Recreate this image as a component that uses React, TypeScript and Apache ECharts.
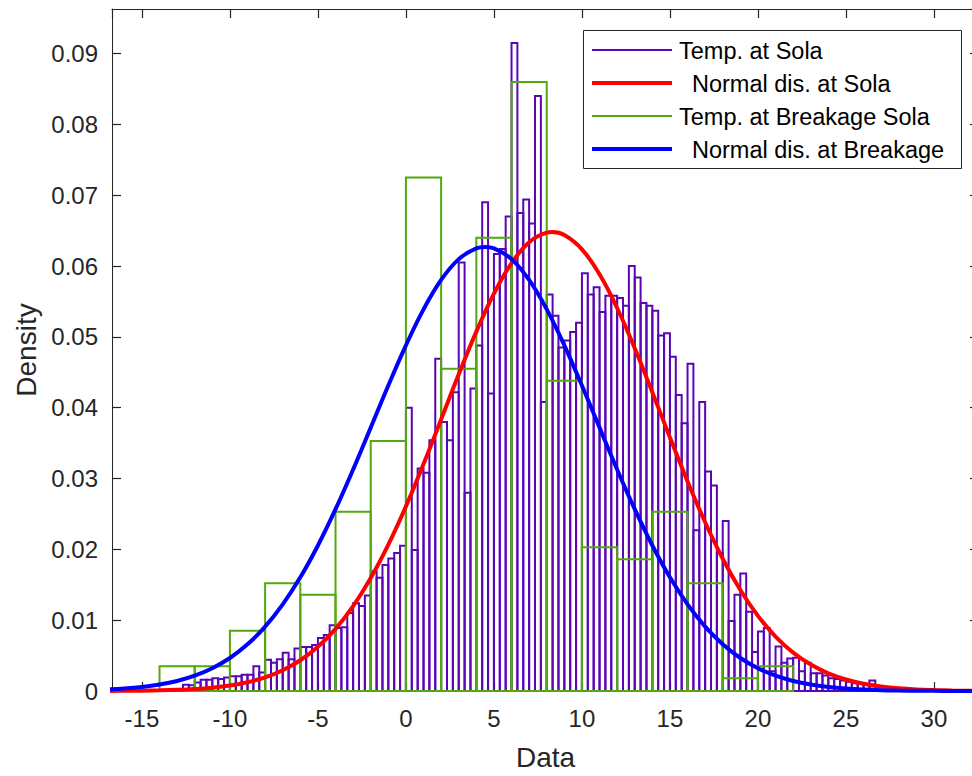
import React, { useEffect, useRef } from "react";
import * as echarts from "echarts";

// Histogram of temperature at Sola (bin width 1/3, first edge -38/3)
const solaFirstEdge = -38 / 3;
const solaBinWidth = 1 / 3;
const solaDensity = [
  0.0009, 0.0008, 0.0012, 0.0016, 0.0016, 0.0018, 0.0017, 0.0019, 0.0021, 0.0021,
  0.0023, 0.0023, 0.0035, 0.0026, 0.0044, 0.0040, 0.0045, 0.0054, 0.0045, 0.0060,
  0.0062, 0.0062, 0.0065, 0.0075, 0.0079, 0.0093, 0.0089, 0.0090, 0.0110, 0.0124,
  0.0120, 0.0135, 0.0169, 0.0160, 0.0178, 0.0187, 0.0195, 0.0205,
  0.0400, 0.0199, 0.0314, 0.0308, 0.0354, 0.0469, 0.0380, 0.0354, 0.0422, 0.0605,
  0.0280, 0.0427, 0.0488, 0.0690, 0.0420, 0.0617, 0.0624, 0.0670, 0.0915, 0.0675,
  0.0694, 0.0660, 0.0840, 0.0408, 0.0560, 0.0530, 0.0485, 0.0495, 0.0507, 0.0520,
  0.0590, 0.0560, 0.0570, 0.0535, 0.0558, 0.0558, 0.0555, 0.0544, 0.0600, 0.0584,
  0.0548, 0.0544, 0.0537, 0.0502, 0.0505, 0.0472, 0.0418, 0.0378, 0.0462, 0.0227,
  0.0408, 0.0310, 0.0290, 0.0195, 0.0240, 0.0099, 0.0136, 0.0166, 0.0112, 0.0055,
  0.0084, 0.0089, 0.0028, 0.0063, 0.0040, 0.0046, 0.0047, 0.0028, 0.0040, 0.0025,
  0.0025, 0.0022, 0.0018, 0.0017, 0.0015, 0.0013, 0.0011, 0.0010, 0.0009, 0.0015,
];

// Histogram of temperature at breakage (bin width 2)
const breakageEdges = [-14, -12, -10, -8, -6, -4, -2, 0, 2, 4, 6, 8, 10, 12, 14, 16, 18, 20, 22];
const breakageDensity = [
  0.0035, 0.0035, 0.0085, 0.0152, 0.0136, 0.0253, 0.0353, 0.0725, 0.0455,
  0.0640, 0.0860, 0.0438, 0.0203, 0.0186, 0.0253, 0.0152, 0.0018, 0.0035,
];

// Fitted normal curves
const solaCurveX = [
  -17, -16, -15, -14, -13, -12, -11, -10, -9, -8, -7, -6, -5, -4, -3, -2, -1,
  0, 1, 2, 3, 4, 5, 6, 7, 8, 8.3, 9, 10, 11, 12, 13, 14, 15, 16, 17, 18, 19,
  20, 21, 22, 23, 24, 25, 26, 27, 28, 29, 30, 31, 32, 33,
];
const solaNormal = [
  0.00001, 0.00003, 0.00005, 0.00009, 0.00016, 0.00028, 0.00047, 0.00077, 0.00124, 0.00193,
  0.00294, 0.00434, 0.00625, 0.00877, 0.01198, 0.01594, 0.02066,
  0.02607, 0.03204, 0.03835, 0.04471, 0.05075, 0.05611, 0.06043, 0.06337, 0.06472, 0.0648,
  0.06438, 0.06237, 0.05884, 0.05408, 0.04839, 0.04218, 0.03580, 0.02960, 0.02383, 0.01868,
  0.01427, 0.01061, 0.00769, 0.00542, 0.00373, 0.00249, 0.00162, 0.00103, 0.00064, 0.00038,
  0.00022, 0.00013, 0.00007, 0.00004, 0.00002,
];
const breakageCurveX = [
  -17, -16, -15, -14, -13, -12, -11, -10, -9, -8, -7, -6, -5, -4, -3, -2, -1,
  0, 1, 2, 3, 4, 4.5, 5, 6, 7, 8, 9, 10, 11, 12, 13, 14, 15, 16, 17, 18, 19,
  20, 21, 22, 23, 24, 25, 26, 27, 28, 29, 30, 31, 32, 33,
];
const breakageNormal = [
  0.00021, 0.00035, 0.00057, 0.00091, 0.00142, 0.00217, 0.00322, 0.00466, 0.00659, 0.00909,
  0.01223, 0.01605, 0.02055, 0.02567, 0.03128, 0.03719, 0.04314,
  0.04881, 0.05389, 0.05804, 0.06098, 0.06251, 0.0627, 0.06251, 0.06098, 0.05804, 0.05389,
  0.04881, 0.04314, 0.03719, 0.03128, 0.02567, 0.02055, 0.01605, 0.01223, 0.00909, 0.00659,
  0.00466, 0.00322, 0.00217, 0.00142, 0.00091, 0.00057, 0.00035, 0.00021, 0.00012, 0.00007,
  0.00004, 0.00002, 0.00001, 0.00001, 0.0,
];

const legendNames = [
  "Temp. at Sola",
  "Normal dis. at Sola",
  "Temp. at Breakage Sola",
  "Normal dis. at Breakage",
];

const PURPLE = "#5a06b4";
const RED = "#ff0000";
const GREEN = "#52a80c";
const BLUE = "#0000ff";
const AXIS = "#262626";
const FONT = '"Liberation Sans", Arial, Helvetica, sans-serif';

const X_MIN = -16.7;
const X_MAX = 32.56;
const Y_MAX = 0.0963;

export default function App() {
  const ref = useRef<HTMLDivElement>(null);

  useEffect(() => {
    if (!ref.current) return;
    const chart = echarts.init(ref.current, undefined, { renderer: "svg" });

    const solaBars = solaDensity.map((h, i) => [
      solaFirstEdge + i * solaBinWidth,
      solaFirstEdge + (i + 1) * solaBinWidth,
      h,
    ]);
    const breakageBars = breakageDensity.map((h, i) => [breakageEdges[i], breakageEdges[i + 1], h]);

    const makeRender = (color: string, lw: number) => (params: any, api: any) => {
      const p0 = api.coord([api.value(0), api.value(2)]);
      const p1 = api.coord([api.value(1), 0]);
      return {
        type: "rect",
        shape: { x: p0[0], y: p0[1], width: p1[0] - p0[0], height: p1[1] - p0[1] },
        style: { fill: "none", stroke: color, lineWidth: lw },
      };
    };

    const xCommon = {
      type: "value",
      min: X_MIN,
      max: X_MAX,
      splitNumber: 10,
      minInterval: 5,
      maxInterval: 5,
      splitLine: { show: false },
      axisLine: { show: true, onZero: false, lineStyle: { color: AXIS, width: 1 } },
      axisTick: { show: true, inside: true, length: 9, lineStyle: { color: AXIS, width: 1.2 } },
    };
    const yCommon = {
      type: "value",
      min: 0,
      max: Y_MAX,
      splitNumber: 10,
      minInterval: 0.01,
      maxInterval: 0.01,
      splitLine: { show: false },
      axisLine: { show: true, onZero: false, lineStyle: { color: AXIS, width: 1 } },
      axisTick: { show: true, inside: true, length: 9, lineStyle: { color: AXIS, width: 1.2 } },
    };

    const rowY = [50, 83, 116, 149];
    const lineStyles = [
      { color: PURPLE, w: 2 },
      { color: RED, w: 4 },
      { color: GREEN, w: 2 },
      { color: BLUE, w: 4 },
    ];
    const textX = [679, 692, 679, 692];

    const legendGraphic: any[] = [
      {
        type: "rect",
        z: 100,
        shape: { x: 583.5, y: 30.5, width: 378, height: 138 },
        style: { fill: "#ffffff", stroke: AXIS, lineWidth: 1 },
      },
    ];
    legendNames.forEach((name, i) => {
      legendGraphic.push({
        type: "line",
        z: 101,
        shape: { x1: 592, y1: rowY[i], x2: 672, y2: rowY[i] },
        style: { stroke: lineStyles[i].color, lineWidth: lineStyles[i].w },
      });
      legendGraphic.push({
        type: "text",
        z: 101,
        x: textX[i],
        y: rowY[i] + 1,
        style: {
          text: name,
          fill: "#000000",
          font: `23.5px ${FONT}`,
          textVerticalAlign: "middle",
          textAlign: "left",
        },
      });
    });

    chart.setOption({
      animation: false,
      backgroundColor: "#ffffff",
      grid: { left: 112, right: 1, top: 9, bottom: 83, containLabel: false },
      xAxis: [
        {
          ...xCommon,
          position: "bottom",
          name: "Data",
          nameLocation: "middle",
          nameGap: 52,
          nameTextStyle: { fontSize: 28, color: AXIS, fontFamily: FONT },
          axisLabel: {
            show: true,
            fontSize: 24,
            color: AXIS,
            fontFamily: FONT,
            margin: 15,
            showMinLabel: false,
            showMaxLabel: false,
          },
        },
        {
          ...xCommon,
          position: "top",
          axisLabel: { show: false },
        },
      ],
      yAxis: [
        {
          ...yCommon,
          position: "left",
          name: "Density",
          nameLocation: "middle",
          nameGap: 71,
          nameTextStyle: { fontSize: 28, color: AXIS, fontFamily: FONT },
          axisLabel: {
            show: true,
            fontSize: 24,
            color: AXIS,
            fontFamily: FONT,
            margin: 14,
            showMaxLabel: false,
            formatter: (v: number) => (v === 0 ? "0" : v.toFixed(2)),
          },
        },
        {
          ...yCommon,
          position: "right",
          axisLabel: { show: false },
        },
      ],
      series: [
        {
          name: legendNames[0],
          type: "custom",
          xAxisIndex: 0,
          yAxisIndex: 0,
          renderItem: makeRender(PURPLE, 2),
          encode: { x: [0, 1], y: 2 },
          data: solaBars,
        },
        {
          name: legendNames[1],
          type: "line",
          xAxisIndex: 0,
          yAxisIndex: 0,
          smooth: 0.4,
          showSymbol: false,
          symbol: "none",
          lineStyle: { color: RED, width: 4 },
          data: solaCurveX.map((x, i) => [x, solaNormal[i]]),
        },
        {
          name: legendNames[2],
          type: "custom",
          xAxisIndex: 0,
          yAxisIndex: 0,
          renderItem: makeRender(GREEN, 2),
          encode: { x: [0, 1], y: 2 },
          data: breakageBars,
        },
        {
          name: legendNames[3],
          type: "line",
          xAxisIndex: 0,
          yAxisIndex: 0,
          smooth: 0.4,
          showSymbol: false,
          symbol: "none",
          lineStyle: { color: BLUE, width: 4 },
          data: breakageCurveX.map((x, i) => [x, breakageNormal[i]]),
        },
      ],
      graphic: legendGraphic,
    });

    return () => chart.dispose();
  }, []);

  return (
    <div
      ref={ref}
      style={{ position: "fixed", left: 0, top: 0, width: 980, height: 776, background: "#fff" }}
    />
  );
}
